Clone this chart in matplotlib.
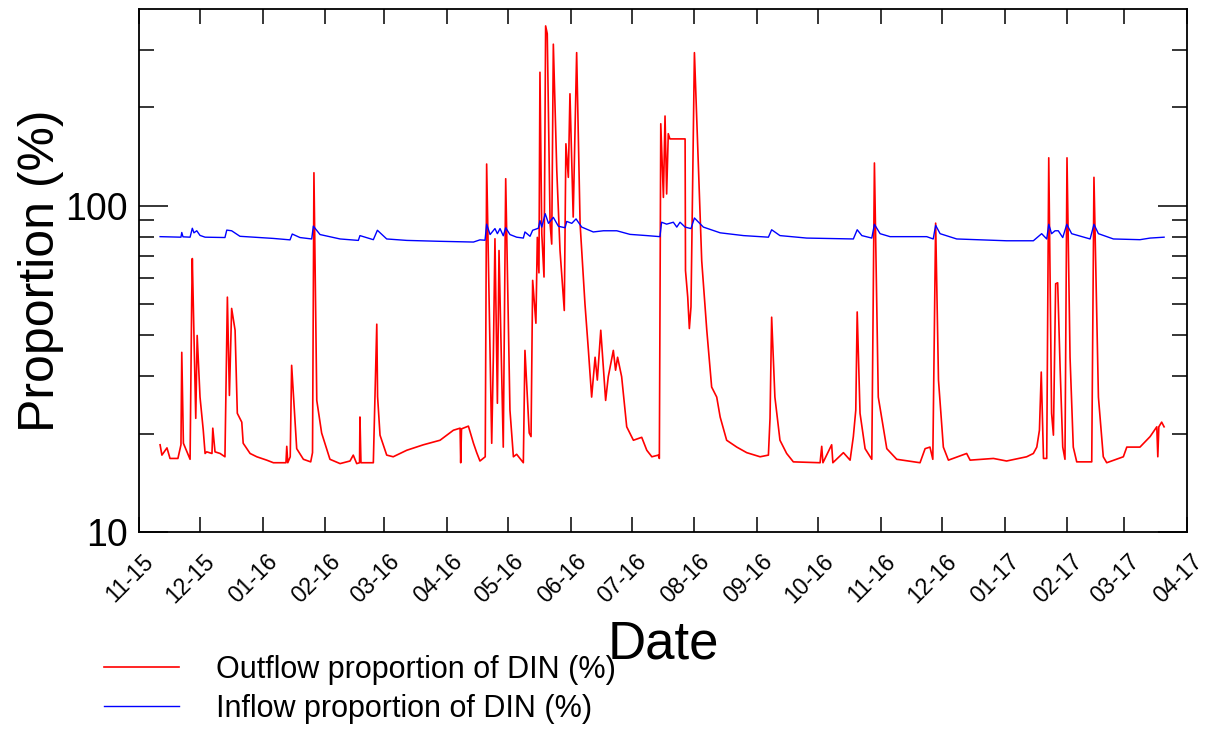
import pandas as pd
import matplotlib
matplotlib.use('Agg')
import matplotlib.pyplot as plt
import matplotlib.dates as mdates
import matplotlib.transforms as mtransforms
from matplotlib.ticker import FixedLocator, NullFormatter

plt.rcParams['font.family'] = ['Liberation Sans', 'DejaVu Sans']

START = '2015-11-01'

# outflow proportion of DIN (%) - days after START, value
out_day = [10.4, 11.3, 13.8, 15.3, 19.2, 20.7, 21.1, 21.9, 25.2, 26.0, 26.3, 28.0, 28.7, 30.1, 31.7, 32.6,
           33.4, 36.0, 36.4, 37.5, 40.0, 42.4, 43.6, 44.6, 45.7, 47.4, 48.5, 50.7, 51.4, 54.8, 58.1, 63.0,
           66.3, 72.5, 72.9, 73.4, 74.6, 75.3, 77.8, 81.1, 84.7, 85.6, 86.3, 87.7, 90.1, 94.2, 99.2, 104.1,
           105.7, 107.4, 108.8, 109.0, 109.5, 115.6, 117.3, 117.7, 118.9, 122.2, 125.4, 132.1, 140.3, 148.5,
           155.1, 158.4, 158.7, 159.1, 162.5, 165.0, 166.6, 168.2, 170.8, 171.5, 174.0, 174.8, 175.6, 176.8,
           177.6, 179.7, 180.9, 183.0, 184.7, 186.3, 189.6, 190.4, 192.5, 193.4, 194.2, 195.8, 196.5, 197.3,
           197.8, 198.7, 199.8, 200.6, 201.4, 202.8, 203.6, 204.4, 206.1, 207.7, 209.8, 210.6, 211.8, 212.6,
           214.2, 215.9, 217.6, 220.0, 221.7, 223.3, 225.0, 226.1, 227.8, 230.2, 231.5, 234.0, 235.1, 236.1,
           238.1, 240.6, 243.9, 248.0, 250.5, 253.0, 256.2, 256.7, 257.4, 258.7, 259.5, 260.3, 261.1, 261.9,
           269.4, 269.6, 270.7, 271.5, 272.3, 274.0, 277.6, 280.1, 282.5, 285.0, 286.7, 289.9, 294.9, 299.8,
           306.4, 310.5, 311.3, 312.1, 313.7, 316.2, 319.5, 322.8, 336.0, 336.8, 337.4, 341.7, 342.3, 347.5,
           350.8, 352.4, 353.6, 354.3, 355.7, 358.2, 361.5, 362.8, 364.7, 368.9, 373.8, 385.3, 387.8, 390.2,
           391.6, 393.0, 394.4, 396.8, 399.3, 408.3, 410.0, 421.5, 428.0, 437.9, 441.2, 442.9, 444.2, 445.1,
           446.2, 447.8, 448.8, 450.2, 451.1, 452.2, 453.2, 454.4, 455.7, 456.8, 457.8, 459.3, 460.9, 462.6,
           470.0, 471.1, 473.3, 475.7, 477.4, 485.6, 487.3, 493.8, 498.8, 502.1, 502.6, 503.1, 504.5, 505.7]
out_val = [18.5, 17.2, 18.1, 16.8, 16.8, 18.5, 35.5, 18.7, 16.7, 51.6, 68.8, 22.3, 40.0, 25.9, 20.5, 17.4,
           17.6, 17.4, 20.8, 17.6, 17.4, 17.0, 52.4, 26.2, 48.4, 41.5, 23.1, 21.7, 18.7, 17.4, 17.0, 16.6,
           16.3, 16.3, 18.3, 16.3, 17.0, 32.4, 18.0, 16.7, 16.4, 17.5, 126, 25.3, 20.1, 16.7, 16.2, 16.5,
           17.2, 16.2, 16.3, 22.5, 16.3, 16.3, 43.3, 26.0, 19.8, 17.2, 17.0, 17.8, 18.5, 19.1,
           20.5, 20.8, 16.3, 20.7, 21.1, 18.7, 17.5, 16.5, 17.0, 134, 18.7, 34.3, 79.1, 24.8,
           72.8, 18.2, 120.8, 23.6, 17.0, 17.3, 16.3, 36.0, 20.1, 19.6, 59.0, 43.6, 79.9, 62.2,
           256, 82, 60.4, 355, 336, 87.9, 76.2, 312, 128, 72.8, 47.7, 154.6, 122, 220,
           92.2, 294, 87.9, 50.0, 36.0, 25.9, 34.3, 29.2, 41.5, 25.3, 29.9, 36.0, 31.3, 34.3,
           29.9, 21.0, 19.1, 19.5, 17.8, 17.0, 17.2, 16.8, 178, 105.9, 188, 108.5, 166, 160,
           160, 63.2, 52.4, 42.0, 48.9, 294, 67.7, 41.5, 27.8, 25.9, 22.5, 19.1, 18.2, 17.5,
           17.0, 17.2, 22.3, 45.5, 25.9, 19.1, 17.4, 16.4, 16.3, 18.3, 16.3, 18.5, 16.3, 17.5,
           16.6, 19.6, 23.6, 47.2, 23.1, 18.0, 16.7, 135, 25.9, 18.0, 16.7, 16.3, 18.0, 18.2,
           16.7, 88.3, 29.2, 18.2, 16.6, 17.4, 16.6, 16.8, 16.5, 17.0, 17.4, 18.2, 20.5, 30.9,
           16.8, 16.8, 140, 23.1, 19.8, 57.6, 58.0, 31.9, 18.2, 16.7, 140, 34.3, 18.2, 16.4,
           16.4, 122, 25.9, 17.0, 16.3, 17.0, 18.2, 18.2, 19.6, 21.0, 17.0, 21.0, 21.7, 21.0]

# inflow proportion of DIN (%)
in_day = [10.4, 20.7, 21.1, 21.7, 25.2, 26.3, 27.1, 28.5, 30.1, 32.6, 42.4, 43.3, 45.7, 49.8, 66.3, 74.5,
          75.6, 79.4, 85.2, 86.0, 89.3, 99.2, 108.2, 109.0, 115.6, 117.6, 122.2, 132.1, 148.5, 165.0, 168.2,
          170.7, 171.5, 173.2, 175.6, 176.8, 178.1, 179.7, 180.9, 183.0, 186.3, 189.6, 190.4, 192.9, 194.2,
          197.0, 197.8, 198.7, 200.4, 202.0, 204.4, 206.9, 210.2, 211.0, 213.5, 215.6, 218.4, 224.1, 229.1,
          235.7, 242.2, 250.5, 257.0, 257.8, 260.3, 263.6, 265.3, 266.9, 269.4, 272.3, 274.0, 278.4, 286.7,
          298.2, 306.4, 310.5, 312.1, 316.2, 329.4, 352.4, 354.3, 356.6, 361.5, 362.8, 365.6, 370.5, 388.6,
          391.8, 393.0, 395.2, 403.4, 428.0, 441.2, 445.3, 447.8, 448.8, 450.2, 451.9, 453.5, 455.7, 457.7,
          460.1, 469.2, 471.1, 473.3, 480.7, 493.8, 498.8, 505.7]
in_val = [80.3, 80.0, 82.7, 80.2, 80.0, 85.2, 82.5, 83.7, 81.0, 80.0, 79.8, 84.1, 83.7, 80.5, 79.3, 78.5,
          81.8, 79.8, 79.0, 86.5, 81.5, 79.0, 78.2, 80.9, 78.6, 84.0, 79.0, 78.2, 77.7, 77.3, 78.5,
          78.3, 87.7, 81.5, 85.0, 82.0, 85.0, 80.8, 85.5, 81.5, 80.0, 79.5, 83.0, 80.5, 84.0,
          85.2, 89.9, 85.9, 94.4, 88.2, 92.0, 86.4, 85.5, 89.4, 88.2, 91.0, 85.9, 83.0, 83.7,
          83.7, 81.6, 80.9, 80.3, 88.9, 87.7, 88.9, 85.9, 88.9, 85.9, 85.0, 91.6, 85.9, 82.5,
          80.9, 80.3, 80.0, 84.3, 80.9, 79.5, 79.0, 84.3, 80.9, 79.5, 87.6, 82.0, 80.3, 80.3,
          79.0, 87.0, 82.0, 79.0, 78.0, 78.0, 82.0, 79.0, 87.6, 82.0, 83.7, 83.7, 79.8, 87.6,
          82.0, 79.0, 87.6, 82.0, 79.0, 78.6, 79.5, 80.0]

out_dates = pd.Timestamp(START) + pd.to_timedelta(out_day, unit='D')
in_dates = pd.Timestamp(START) + pd.to_timedelta(in_day, unit='D')

fig = plt.figure(figsize=(12.09, 7.29), dpi=100)
ax = fig.add_axes([139 / 1209, 1 - 532 / 729, 1048 / 1209, 523 / 729])

ax.plot(out_dates, out_val, color='#ff0000', lw=1.2, label='Outflow proportion of DIN (%)')
ax.plot(in_dates, in_val, color='#0000ff', lw=1.0, label='Inflow proportion of DIN (%)')

ax.set_yscale('log')
ax.set_ylim(10, 400)
ax.set_xlim(pd.Timestamp('2015-11-01'), pd.Timestamp('2017-04-01'))

# y ticks
ax.yaxis.set_major_locator(FixedLocator([10, 100]))
ax.yaxis.set_minor_locator(FixedLocator([20, 30, 40, 50, 60, 70, 80, 90, 200, 300]))
ax.yaxis.set_minor_formatter(NullFormatter())
ax.set_yticklabels(['10', '100'])

# x ticks at month starts
ax.xaxis.set_major_locator(mdates.MonthLocator())
ax.xaxis.set_major_formatter(mdates.DateFormatter('%m-%y'))

ax.tick_params(axis='y', which='major', direction='in', length=21, width=1.1,
               labelsize=27, pad=8, left=True, right=True)
ax.tick_params(axis='y', which='minor', direction='in', length=11, width=1.1,
               left=True, right=True)
ax.tick_params(axis='x', which='major', direction='in', length=11, width=1.1,
               labelsize=16.5, pad=13, top=True, bottom=True)
shift = mtransforms.ScaledTranslation(-9 / 100, 0, fig.dpi_scale_trans)
for lbl in ax.get_xticklabels():
    lbl.set_rotation(45)
    lbl.set_transform(lbl.get_transform() + shift)

for s in ax.spines.values():
    s.set_linewidth(1.3)

ax.set_ylabel('Proportion (%)', fontsize=36)
ax.yaxis.set_label_coords(-0.072, 0.5)
ax.set_xlabel('Date', fontsize=38)
ax.xaxis.set_label_coords(0.5, -0.168)

fig.legend(loc='upper left', bbox_to_anchor=(104 / 1209, 1 - 655 / 729), frameon=False,
           fontsize=22, handlelength=2.45, handletextpad=1.2, labelspacing=0.3,
           borderpad=0, borderaxespad=0)

fig.savefig('out.png', dpi=100)
